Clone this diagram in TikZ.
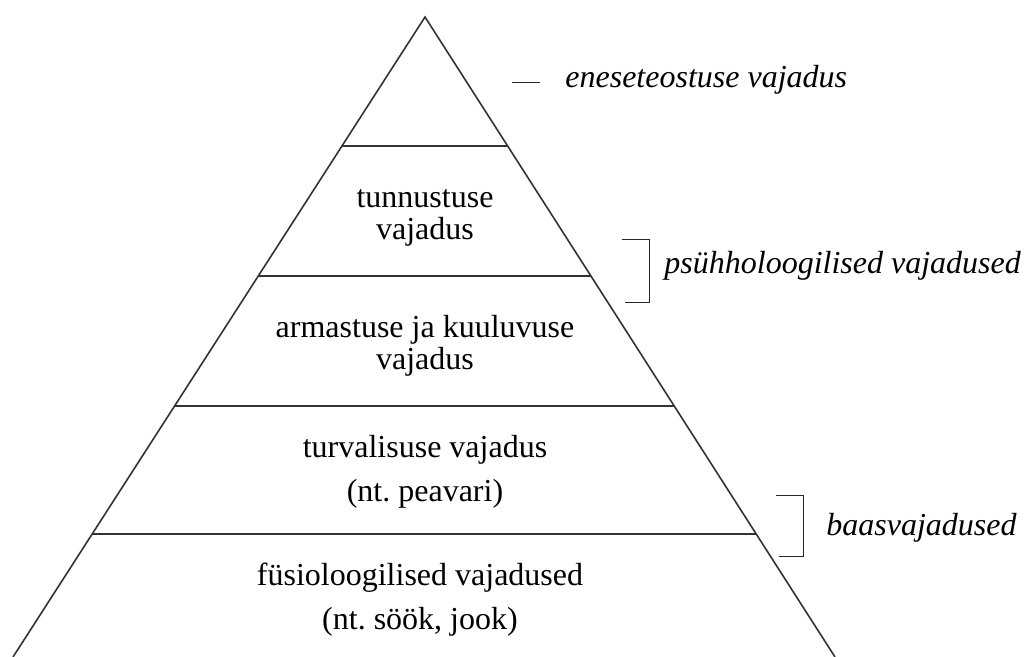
\documentclass[tikz,border=0pt]{standalone}
\usepackage{fontspec}
\setmainfont{Liberation Serif}
\usetikzlibrary{calc}
\frenchspacing

\tikzstyle{edge} = [draw=black!80, line width=0.8pt]
\tikzstyle{level} = [align=center, font=\fontsize{16}{16}\selectfont]
\tikzstyle{note} = [anchor=base west, inner sep=0pt, font=\fontsize{16}{16}\selectfont\itshape]
\tikzstyle{brace} = [draw=black!85, line width=0.5pt]

\begin{document}
\begin{tikzpicture}[x=0.5pt,y=-0.5pt]
  \useasboundingbox (0,0) rectangle (1031,657);
  \coordinate (top) at (425,17);
  \coordinate (bl) at (13,657);
  \coordinate (br) at (835,657);
  \draw[edge] (bl) -- (top) -- (br);
  % layer borders
  \foreach \y in {146,276,406,534}
    \draw[edge] ($(top)!{(\y-17)/640}!(bl)$) -- ($(top)!{(\y-17)/640}!(br)$);

  \node[level] (tunn) at (425,218) {tunnustuse\\vajadus};
  \node[level] (arm) at (425,346) {armastuse ja kuuluvuse\\vajadus};
  \node[level] (turv) at (425,472) {turvalisuse vajadus\\[6pt](nt. peavari)};
  \node[level] (fys) at (420,600) {füsioloogilised vajadused\\[6pt](nt. söök, jook)};

  \node[note] (ene) at (565,88) {eneseteostuse vajadus};
  \node[note] (psy) at (664,273) {psühholoogilised vajadused};
  \node[note] (baas) at (826,535) {baasvajadused};

  \draw[brace] (512,83) -- (540,83);
  \draw[brace] (622,240) -- (649,240) -- (649,302) -- (625,302);
  \draw[brace] (776,495) -- (803,495) -- (803,556) -- (779,556);
\end{tikzpicture}
\end{document}
